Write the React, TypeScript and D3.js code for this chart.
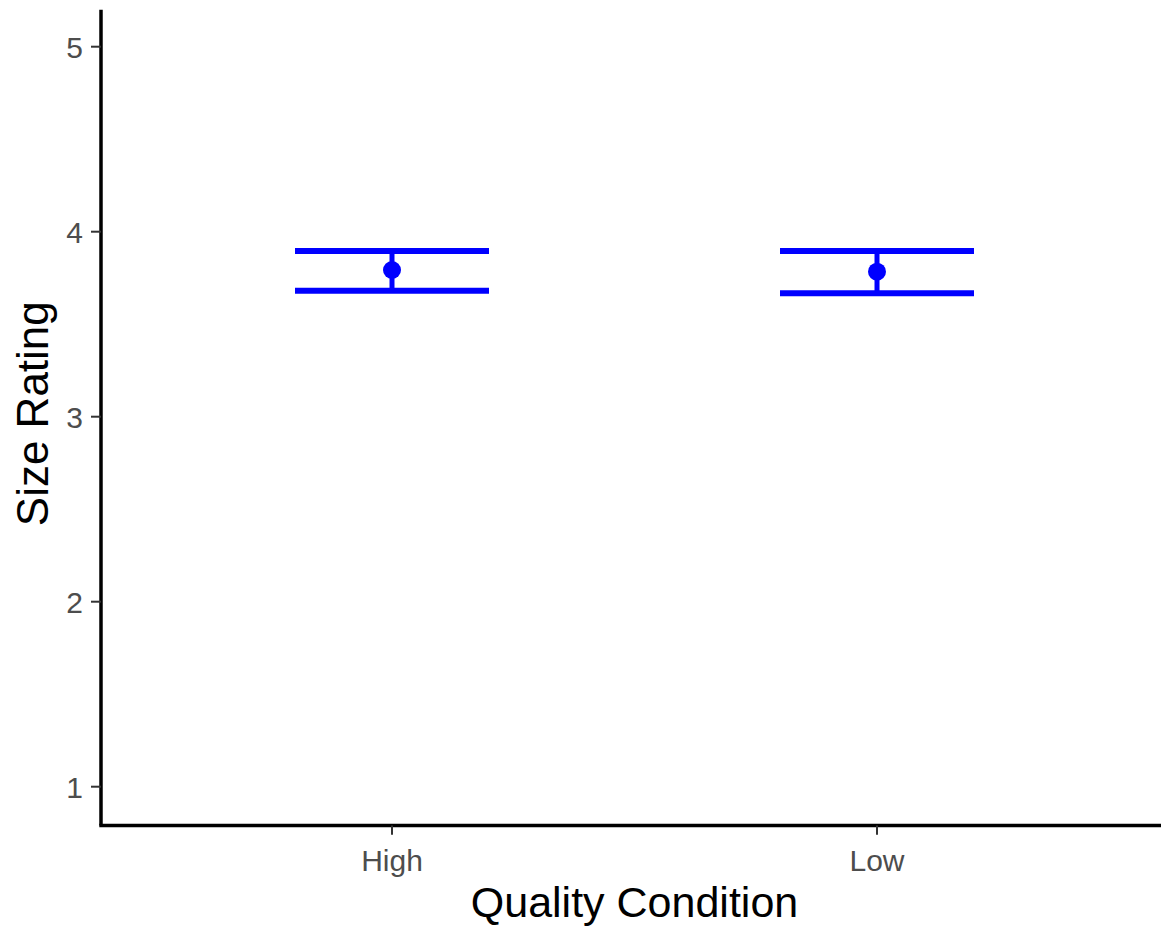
import React from "react";
import * as d3 from "d3";

// summary values
const categories = ["High", "Low"];
const means = [3.793, 3.784];
const upper = [3.896, 3.896];
const lower = [3.681, 3.667];
const yTicks = [1, 2, 3, 4, 5];

const W = 1161;
const H = 926;
const panel = { left: 101, right: 1168, top: 9.7, bottom: 823.7 };
const font = "'Liberation Sans', Arial, sans-serif";
const blue = "#0000FF";

const App = () => {
	const x = d3
		.scalePoint<string>()
		.domain(categories)
		.range([panel.left, panel.right])
		.padding(0.6);

	const y = d3.scaleLinear().domain([0.8, 5.2]).range([panel.bottom, panel.top]);

	const half = x.step() * 0.2;
	const rows = categories.map((c, i) => ({ c, m: means[i], hi: upper[i], lo: lower[i] }));

	return (
		<svg
			width={W}
			height={H}
			style={{ position: "absolute", left: 0, top: 0, background: "#fff" }}
			fontFamily={font}
		>
			{/* error bars */}
			{rows.map((d) => {
				const cx = x(d.c) as number;
				return (
					<g key={d.c}>
						<line x1={cx} x2={cx} y1={y(d.hi)} y2={y(d.lo)} stroke={blue} strokeWidth={5} />
						<line x1={cx - half} x2={cx + half} y1={y(d.hi)} y2={y(d.hi)} stroke={blue} strokeWidth={6} />
						<line x1={cx - half} x2={cx + half} y1={y(d.lo)} y2={y(d.lo)} stroke={blue} strokeWidth={6} />
						<circle cx={cx} cy={y(d.m)} r={9} fill={blue} />
					</g>
				);
			})}

			{/* y axis */}
			<line x1={panel.left} x2={panel.left} y1={panel.top} y2={panel.bottom + 1.7} stroke="#000" strokeWidth={3.5} />
			{yTicks.map((t) => (
				<g key={t} transform={`translate(0,${y(t)})`}>
					<line x1={panel.left - 10} x2={panel.left} stroke="#333" strokeWidth={2} />
					<text x={panel.left - 18} dy="0.36em" textAnchor="end" fontSize={30} fill="#4D4D4D">
						{t}
					</text>
				</g>
			))}

			{/* x axis */}
			<line x1={panel.left - 1.7} x2={panel.right} y1={panel.bottom + 1.7} y2={panel.bottom + 1.7} stroke="#000" strokeWidth={3.5} />
			{categories.map((c) => (
				<g key={c} transform={`translate(${x(c)},0)`}>
					<line y1={panel.bottom + 1.7} y2={panel.bottom + 11} stroke="#333" strokeWidth={2} />
					<text y={870.5} textAnchor="middle" fontSize={30} fill="#4D4D4D">
						{c}
					</text>
				</g>
			))}

			{/* axis titles */}
			<text x={(panel.left + panel.right) / 2} y={916.5} textAnchor="middle" fontSize={43} fill="#000">
				Quality Condition
			</text>
			<text
				transform={`translate(48,${(panel.top + panel.bottom) / 2 - 3}) rotate(-90)`}
				textAnchor="middle"
				fontSize={44}
				fill="#000"
			>
				Size Rating
			</text>
		</svg>
	);
};

export default App;
